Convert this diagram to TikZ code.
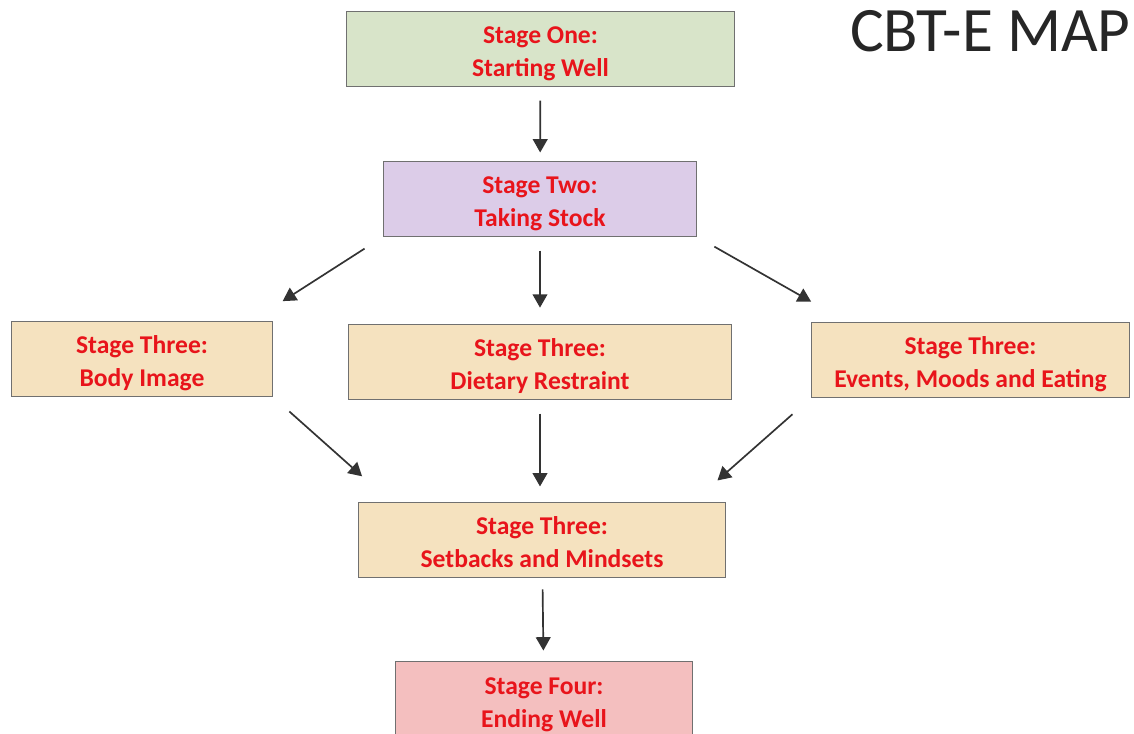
\documentclass[tikz,border=0pt]{standalone}
\usepackage{fontspec}
\setmainfont{Carlito}
\usetikzlibrary{positioning, arrows.meta}

\definecolor{boxtext}{HTML}{E8141B}
\definecolor{boxline}{HTML}{707070}
\definecolor{onefill}{HTML}{D8E4C9}
\definecolor{twofill}{HTML}{DCCCE8}
\definecolor{threefill}{HTML}{F5E2BF}
\definecolor{fourfill}{HTML}{F4BFBF}
\definecolor{arrowgray}{HTML}{333333}

\tikzset{
    stage/.style={rectangle, draw=boxline, line width=0.7pt, inner sep=0pt,
        minimum height=1.85cm, align=center, text=boxtext,
        text height=39.8pt, text depth=0pt,
        font=\bfseries\fontsize{18.2}{23.5}\selectfont},
    flow/.style={-{Triangle[width=10.5pt, length=9.5pt]}, draw=arrowgray,
        line width=1.2pt}
}

\begin{document}
\begin{tikzpicture}[x=0.025cm, y=-0.025cm]
    \useasboundingbox (0, 0) rectangle (1134, 734);

    \node[font=\fontsize{45}{50}\selectfont, text=black!85, anchor=north east, inner sep=0pt] (title) at (1131, 10) {CBT-E MAP};

    \begin{scope}[every node/.style={stage}]
        \node[fill=onefill, minimum width=9.675cm]   (One)      at (540.5, 49)  {Stage One:\\Starting Well};
        \node[fill=twofill, minimum width=7.8cm]     (Two)      at (540, 199)   {Stage Two:\\Taking Stock};
        \node[fill=threefill, minimum width=6.5cm]   (Body)     at (142, 359)   {Stage Three:\\Body Image};
        \node[fill=threefill, minimum width=9.55cm]  (Diet)     at (540, 362)   {Stage Three:\\Dietary Restraint};
        \node[fill=threefill, minimum width=7.925cm] (Events)   at (970.5, 360) {Stage Three:\\Events, Moods and Eating};
        \node[fill=threefill, minimum width=9.15cm]  (Setbacks) at (542, 540)   {Stage Three:\\Setbacks and Mindsets};
        \node[fill=fourfill, minimum width=7.4cm, minimum height=1.9cm] (Four) at (544, 700) {Stage Four:\\Ending Well};
    \end{scope}

    \begin{scope}[flow]
        \draw[shorten <=10pt, shorten >=6.4pt]  (One) -- (Two);
        \draw[shorten <=10pt, shorten >=12pt]   (Two) -- (Diet);
        \draw[shorten <=16pt, shorten >=26.8pt] (Two.south west) -- (Body.19);
        \draw[shorten <=14.6pt, shorten >=30pt] (Two.south east) -- (Events.163);
        \draw[shorten <=16pt, shorten >=28pt]   (Body.south east) -- (Setbacks.166.6);
        \draw[shorten <=10pt, shorten >=11.4pt] (Diet.south) -- (Setbacks.north -| Diet.south);
        \draw[shorten <=18pt, shorten >=23.7pt] (Events.south west) -- (Setbacks.14.2);
        \draw[shorten <=8.5pt, shorten >=7.8pt] (Setbacks) -- (Four);
    \end{scope}
\end{tikzpicture}
\end{document}
